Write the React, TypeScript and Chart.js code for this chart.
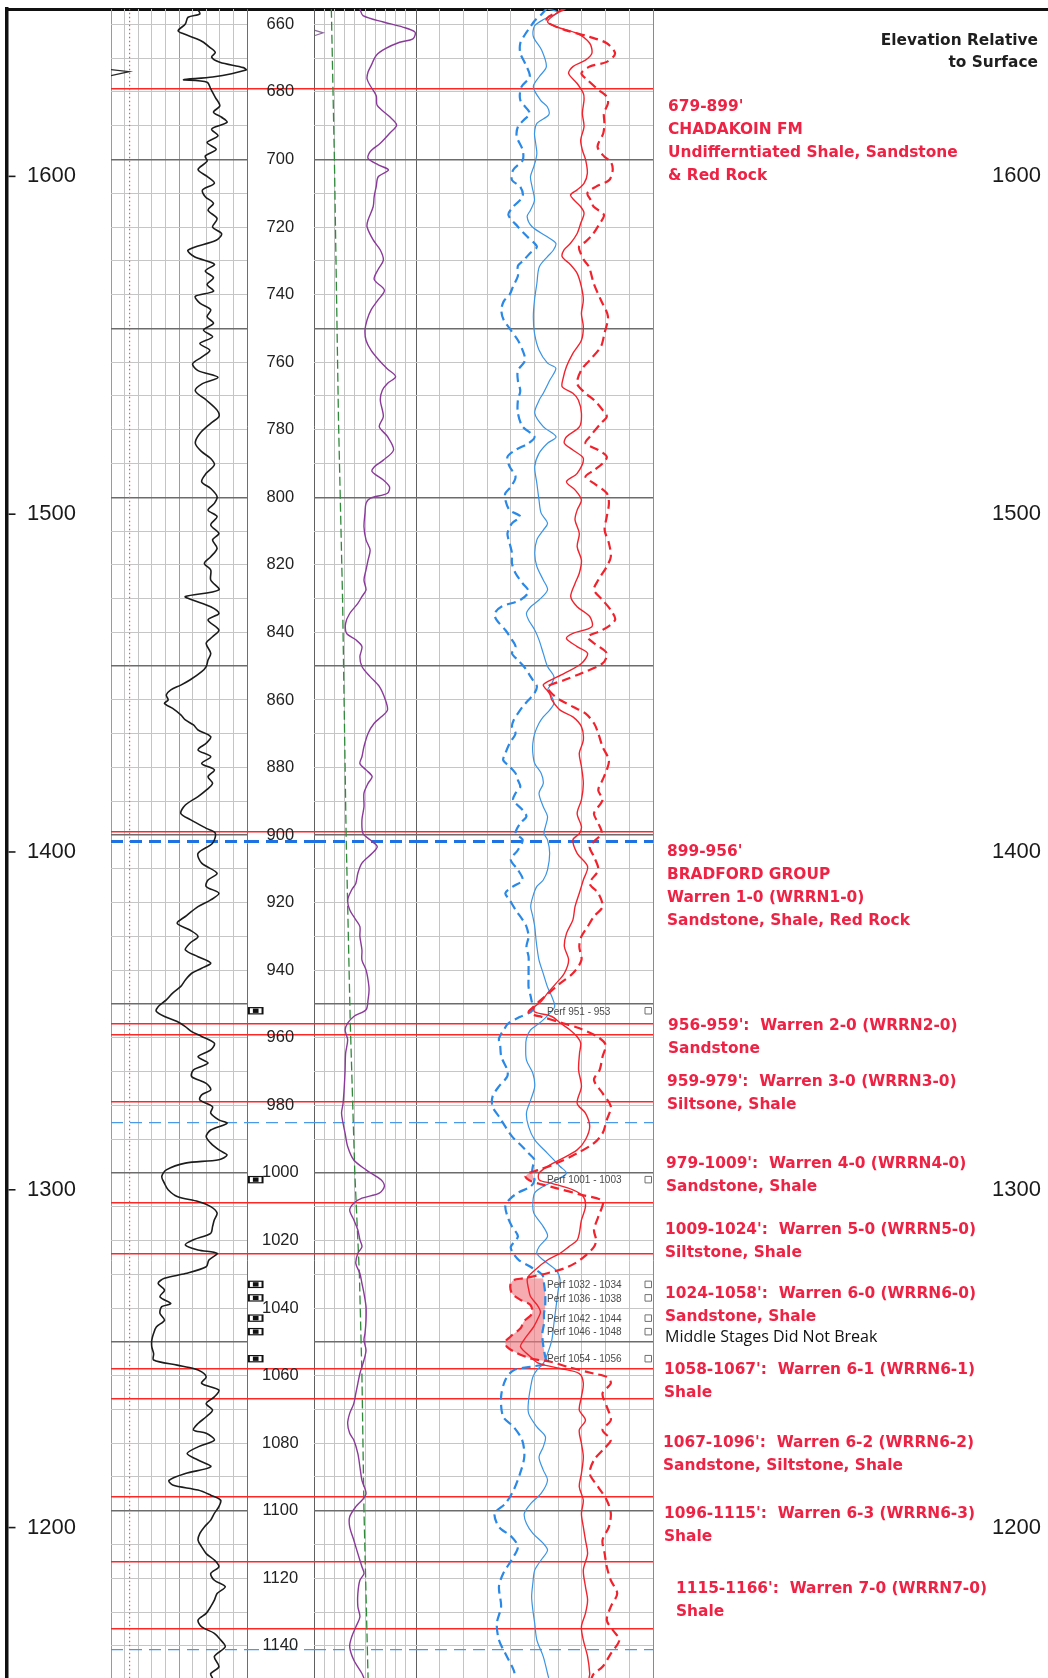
import React, { useEffect, useRef } from "react";
import { Chart, registerables } from "chart.js";

Chart.register(...registerables);

// ---------------- data ----------------
const TOP_DEPTH = 655.45;
const BASE_DEPTH = 1149.53;
const KB_ELEVATION = 2305;

const ELEVATION_TICKS = [1200, 1300, 1400, 1500, 1600];
const DEPTH_LABELS = [660, 680, 700, 720, 740, 760, 780, 800, 820, 840, 860, 880, 900, 920, 940, 960, 980, 1000, 1020, 1040, 1060, 1080, 1100, 1120, 1140];
const FORMATION_TOPS = [679, 899, 956, 959, 979, 1009, 1024, 1058, 1067, 1096, 1115, 1135];
const MARKER_DEPTHS = [902, 985, 1141];
const PERF_TOP = [951, 1001, 1032, 1036, 1042, 1046, 1054];
const PERF_BASE = [953, 1003, 1034, 1038, 1044, 1048, 1056];
const CROSSOVER_WINDOWS = [[950.6, 953.6], [999.5, 1003.3], [1029.8, 1056.4]];

const ZONE_DEPTH = [684.4, 904.9, 956.6, 973.0, 997.3, 1017.0, 1035.8, 1058.3, 1079.9, 1100.9, 1123.1];
const ZONE_TEXT = [
  ["679-899'", "CHADAKOIN FM", "Undifferntiated Shale, Sandstone", "& Red Rock"],
  ["899-956'", "BRADFORD GROUP", "Warren 1-0 (WRRN1-0)", "Sandstone, Shale, Red Rock"],
  ["956-959':  Warren 2-0 (WRRN2-0)", "Sandstone"],
  ["959-979':  Warren 3-0 (WRRN3-0)", "Siltsone, Shale"],
  ["979-1009':  Warren 4-0 (WRRN4-0)", "Sandstone, Shale"],
  ["1009-1024':  Warren 5-0 (WRRN5-0)", "Siltstone, Shale"],
  ["1024-1058':  Warren 6-0 (WRRN6-0)", "Sandstone, Shale"],
  ["1058-1067':  Warren 6-1 (WRRN6-1)", "Shale"],
  ["1067-1096':  Warren 6-2 (WRRN6-2)", "Sandstone, Siltstone, Shale"],
  ["1096-1115':  Warren 6-3 (WRRN6-3)", "Shale"],
  ["1115-1166':  Warren 7-0 (WRRN7-0)", "Shale"],
];
const NOTE_TEXT = "Middle Stages Did Not Break";
const NOTE_DEPTH = 1048.8;
const TITLE_LINES = ["Elevation Relative", "to Surface"];

// Gamma ray (API, track 1: 0-150)
const GR_LOG = [
  [655.4, 95], [656.9, 98], [657.9, 85], [659.9, 82], [661.9, 74], [662.8, 80], [664.3, 95], [665.3, 102], [666.8, 109], [668.3, 115],
  [669.7, 111], [671.2, 120], [672.8, 146], [673.5, 149], [675.6, 112], [676.4, 80], [677.1, 106], [679.1, 110], [681.6, 115], [684.1, 120],
  [686, 113], [687.5, 122], [689, 128], [691, 111], [693, 118], [695, 106], [697, 116], [699, 104], [700.5, 106], [703, 96],
  [705, 106], [707, 114], [709, 101], [711, 104], [713, 113], [715, 107], [717.5, 117], [720, 112], [722, 122], [723.9, 116],
  [726.8, 85], [728.8, 92], [731, 114], [733, 104], [735, 113], [737, 106], [739, 113], [740.5, 93], [742.5, 98], [744.5, 110],
  [746.5, 106], [748.5, 113], [750.5, 102], [752.5, 112], [754.5, 98], [756.5, 109], [758.5, 100], [760.5, 90], [762.5, 96], [764.5, 118],
  [766.5, 100], [768.5, 93], [771.2, 105], [774.2, 117], [776.1, 119], [778.1, 110], [781.1, 98], [784, 93], [786.5, 100], [788.5, 110],
  [790.4, 114], [792.9, 105], [795.4, 100], [797.4, 110], [799.8, 117], [801.8, 114], [803.8, 107], [805.7, 117], [808.2, 110], [810.7, 119],
  [812.6, 112], [815.1, 117], [817.6, 110], [819.6, 103], [821.5, 110], [824.5, 110], [827.4, 119], [829.4, 82], [830.4, 90], [832.4, 110],
  [834.4, 119], [836.3, 107], [839.3, 119], [841.3, 112], [843.2, 105], [846.2, 110], [848.2, 107], [850.1, 105], [851.6, 100], [854.1, 87],
  [855.6, 77], [857, 66], [858.5, 61], [860, 63], [861, 59], [862.5, 68], [864.4, 77], [865.9, 82], [867.4, 91], [868.9, 96],
  [870.9, 110], [872.8, 105], [874.8, 96], [876.8, 110], [878.8, 100], [880.7, 114], [882.7, 107], [884.7, 112], [886.7, 105], [888.6, 96],
  [891.1, 82], [893.6, 77], [895.5, 88], [898, 105], [899.4, 115], [902.4, 112], [905.4, 96], [908.3, 100], [911.3, 117], [913.3, 107],
  [915.2, 105], [917.2, 119], [919.2, 110], [921.2, 96], [924.1, 82], [926.1, 73], [928.1, 87], [930, 96], [932, 87], [934, 82],
  [936, 96], [937.9, 110], [939.4, 100], [940.9, 89], [942.9, 82], [944.8, 77], [946.8, 68], [948.8, 61], [950.8, 52], [952.2, 50],
  [953.7, 59], [955.2, 73], [956.7, 82], [958.2, 89], [959.6, 100], [961.6, 114], [963.6, 110], [965.6, 96], [967.5, 107], [969.5, 91],
  [971.5, 89], [973.5, 105], [975.4, 110], [976.9, 100], [978.4, 98], [980.4, 112], [982.3, 110], [984.3, 119], [985.3, 128], [987.3, 110],
  [989.2, 105], [991.2, 110], [993.2, 119], [994.7, 128], [996.1, 119], [997.1, 82], [999.1, 61], [1001.1, 56], [1003.1, 59], [1005, 63],
  [1007, 73], [1008.5, 96], [1010, 110], [1011.9, 117], [1013.9, 114], [1015.9, 112], [1017.9, 110], [1019.8, 91], [1021.3, 82], [1022.8, 96],
  [1023.8, 117], [1025.8, 108], [1027.8, 105], [1029.8, 82], [1031.2, 59], [1032.7, 52], [1034.7, 59], [1036.7, 54], [1038.7, 66], [1039.6, 56],
  [1041.6, 54], [1043.6, 59], [1045.6, 50], [1047.5, 47], [1049.5, 45], [1051.5, 45], [1053.5, 47], [1055.4, 47], [1056.9, 73], [1057.9, 91],
  [1058.9, 100], [1060.4, 105], [1062.3, 100], [1064.3, 119], [1066.3, 114], [1068.3, 105], [1070.2, 112], [1072.2, 105], [1074.2, 96], [1076.1, 91],
  [1077.1, 105], [1079.1, 114], [1081.1, 96], [1083.1, 84], [1085, 96], [1087, 110], [1089, 82], [1091, 64], [1092.4, 68], [1093.9, 96],
  [1095.4, 110], [1096.9, 121], [1098.8, 119], [1100.8, 114], [1102.8, 110], [1104.8, 103], [1106.7, 98], [1108.7, 96], [1110.7, 100], [1112.7, 105],
  [1114.6, 114], [1116.6, 119], [1118.6, 110], [1120.6, 114], [1122.5, 126], [1124.5, 117], [1126.5, 114], [1128.4, 110], [1130.4, 105], [1132.4, 96],
  [1134.4, 100], [1136.3, 114], [1138.3, 121], [1140.3, 126], [1143.2, 114], [1146.2, 119], [1148.2, 110], [1149.6, 112],
];
const SP_BLIP = [[673.4, 0], [674.0, 20], [675.2, 0]];
const DOTTED_LOG = [[655.4, 20.5], [1149.6, 20.5]];

// Track 2a (0-10 divisions)
const PURPLE_LOG = [
  [655.4, 4.5], [657.4, 4.8], [659.3, 6.8], [660.8, 8.7], [662.3, 9.9], [664.3, 9.7], [665.3, 8.4], [667.2, 7.0], [669.2, 6.1], [672.2, 5.6],
  [674.1, 5.3], [676.1, 5.2], [678.1, 5.5], [681.1, 6.1], [684, 6.2], [687.3, 7.4], [689.8, 8.1], [692.3, 7.4], [695.2, 6.5], [697.7, 5.5],
  [699.7, 5.3], [701.6, 6.3], [703.1, 7.3], [705.1, 6.3], [708, 6.1], [711, 5.9], [714, 5.8], [717.9, 5.3], [719.9, 5.2], [723.8, 5.8],
  [726.8, 6.5], [729.8, 6.8], [732.5, 6.3], [735.5, 5.9], [738.7, 6.9], [741.5, 6.3], [744.5, 5.6], [747.5, 5.2], [750.5, 5.0], [753.5, 5.1],
  [756.5, 5.6], [759.5, 6.4], [762, 7.2], [764.3, 8.0], [766.3, 7.2], [768.3, 6.7], [771.2, 6.5], [776.1, 6.8], [779.1, 6.4], [782, 7.2],
  [786, 7.8], [789, 6.8], [791, 5.9], [792.4, 5.7], [794.9, 6.8], [796.9, 7.4], [798.8, 7.2], [800.3, 5.5], [801.8, 5.1], [804.7, 5.0],
  [808.7, 4.9], [812.6, 5.1], [815.6, 5.5], [818.6, 5.3], [821.5, 5.1], [824.5, 4.9], [827.4, 5.1], [829.4, 4.7], [831.4, 4.3], [834.4, 3.5],
  [837.3, 3.1], [840.3, 3.2], [842.2, 4.1], [844.2, 4.7], [847.2, 4.5], [850.1, 4.7], [853.1, 5.5], [856, 6.4], [860, 7.0], [863, 7.2],
  [865, 6.6], [866.9, 5.9], [869.9, 5.3], [873.8, 4.9], [876.8, 4.7], [878.8, 4.5], [880.7, 5.1], [882.7, 5.7], [884.7, 5.3], [887.6, 4.9],
  [891.6, 4.9], [895.5, 4.7], [899.5, 4.8], [901.4, 5.5], [903.4, 6.2], [905.4, 5.7], [908.3, 4.7], [911.3, 4.3], [914.3, 4.1], [916.2, 3.7],
  [919.2, 3.3], [922.1, 3.5], [925.1, 4.1], [927.1, 4.5], [930, 4.5], [934, 4.7], [937, 4.7], [939.9, 5.1], [942.9, 5.3], [945.8, 5.4],
  [948.8, 5.3], [951.7, 5.1], [953.7, 3.9], [955.7, 3.3], [957.7, 3.05], [960.6, 3.3], [964.6, 3.1], [969.5, 3.05], [974.4, 2.97], [979.4, 2.85],
  [982.3, 2.7], [985.3, 2.85], [988.3, 3.05], [992.2, 3.3], [996.2, 3.9], [999.1, 5.1], [1002.1, 6.6], [1004, 6.9], [1006, 6.4], [1007.5, 4.7],
  [1009, 3.9], [1011, 3.5], [1013.9, 3.9], [1016.9, 4.3], [1019.8, 4.5], [1021.9, 4.7], [1023.8, 4.3], [1026.8, 4.1], [1029.8, 4.5], [1032.7, 4.7],
  [1035.7, 4.9], [1039.6, 5.1], [1043.6, 5.1], [1047.5, 5.0], [1049.5, 4.9], [1052.5, 5.1], [1055.4, 4.9], [1057.4, 4.7], [1059.4, 4.5], [1062.3, 4.3],
  [1065.3, 4.1], [1068.3, 3.9], [1071.2, 3.5], [1074.2, 3.3], [1077.1, 3.5], [1079.1, 3.9], [1083.1, 4.3], [1087, 4.5], [1091, 4.7], [1094.9, 5.1],
  [1096.9, 4.7], [1098.8, 4.1], [1101.8, 3.5], [1104.8, 3.5], [1108.7, 3.9], [1112.7, 4.3], [1116.6, 4.7], [1118.6, 4.9], [1120.6, 4.5], [1124.5, 4.3],
  [1128.4, 4.3], [1131.4, 4.5], [1134.4, 4.1], [1137.3, 3.7], [1140.3, 3.5], [1144.2, 3.9], [1148.2, 4.7], [1149.6, 4.9],
];
const PURPLE_BLIP = [[661.8, 0.1], [662.5, 0.9], [663.3, 0.1]];
const GREEN_LOG = [[655.4, 1.7], [700, 2.0], [777, 2.4], [830, 2.8], [900, 3.15], [955, 3.55], [1000, 4.0], [1030, 4.45], [1060, 4.7], [1100, 4.9], [1149.6, 5.3]];

// Track 2b (0-10 divisions)
const BLUE_DASHED_LOG = [
  [655.4, 5.5], [657, 5.3], [659, 5.0], [661, 4.8], [663, 4.6], [665.6, 4.4], [668.5, 4.4], [671.5, 4.6], [675.5, 4.8], [678.5, 4.45],
  [682.4, 4.4], [686.3, 4.8], [688.3, 4.55], [690.3, 4.3], [693.2, 4.25], [697.2, 4.5], [700.2, 4.5], [703.1, 4.1], [706.1, 4.05], [708.1, 4.4],
  [711, 4.5], [714, 4.1], [716.4, 3.9], [719.9, 4.3], [722.9, 4.7], [725.8, 5.1], [727.8, 4.8], [729.8, 4.55], [731.5, 4.3], [734.5, 4.3],
  [737.5, 4.1], [740, 3.95], [742, 3.7], [744.6, 3.6], [747.5, 3.7], [750.5, 4.0], [753.5, 4.3], [756.5, 4.5], [759.5, 4.6], [762.5, 4.3],
  [765.5, 4.3], [768.5, 4.4], [771.2, 4.3], [775.1, 4.3], [779.1, 4.5], [782.1, 5.0], [784, 4.75], [786, 4.2], [788, 3.86], [790.9, 3.95],
  [793.9, 4.2], [796.9, 4.0], [798.8, 3.77], [800.8, 3.77], [803.8, 3.95], [805.7, 4.4], [807.7, 4.05], [810.7, 3.86], [813.6, 3.95], [816.6, 4.05],
  [819.6, 4.05], [822.5, 4.2], [825.5, 4.5], [827.9, 4.75], [830.4, 4.4], [832.4, 3.6], [834.4, 3.32], [836.3, 3.4], [839.3, 3.77], [842.2, 4.05],
  [844.2, 4.2], [846.2, 4.05], [848.2, 4.3], [850.1, 4.55], [852.1, 4.75], [854.1, 4.93], [856, 5.1], [858, 5.0], [860, 4.75], [862, 4.5],
  [864, 4.3], [866, 4.12], [867.9, 4.05], [869.9, 4.2], [872.8, 3.95], [875.8, 3.77], [877.8, 3.68], [879.7, 3.95], [881.7, 4.2], [883.7, 4.3],
  [885.7, 4.4], [887.6, 4.2], [889.6, 4.1], [892.6, 4.5], [894.5, 4.66], [896.5, 4.4], [899.5, 4.2], [901.4, 4.5], [904.4, 4.3], [907.3, 4.0],
  [910.3, 4.3], [913.3, 4.5], [915.2, 4.1], [917.2, 3.77], [919.2, 3.95], [922.1, 4.2], [925.1, 4.5], [927.1, 4.66], [930, 4.75], [933, 4.66],
  [936, 4.75], [939, 4.75], [942, 4.75], [945, 4.75], [947.8, 4.84], [949.8, 4.9], [951, 4.95], [952.3, 4.85], [953.8, 4.4], [955.7, 3.9],
  [957.7, 3.7], [960.2, 3.5], [962.1, 3.55], [965.6, 3.6], [969.5, 3.85], [971.5, 3.85], [974.4, 3.5], [977.4, 3.23], [980.4, 3.23], [983.3, 3.5],
  [986.3, 3.77], [989.2, 4.05], [992.2, 4.48], [994.2, 4.75], [996.1, 5.0], [998.1, 4.93], [1000.1, 4.9], [1002.1, 5.0], [1004, 4.84], [1005.9, 4.3],
  [1007.8, 3.95], [1009.8, 3.77], [1012.9, 3.86], [1015.9, 4.05], [1018.8, 4.3], [1021.9, 4.0], [1023.8, 4.1], [1025.8, 4.34], [1027.8, 4.83], [1030.2, 5.33],
  [1032.7, 5.4], [1035.7, 5.45], [1039.6, 5.45], [1041.6, 5.4], [1044.6, 5.4], [1047.5, 5.33], [1050, 5.35], [1052.4, 5.4], [1054.4, 5.45], [1056.4, 5.5],
  [1057.4, 4.83], [1058.4, 4.12], [1061.3, 3.77], [1066.3, 3.59], [1072.2, 3.68], [1075.2, 4.12], [1079.1, 4.48], [1084, 4.57], [1089, 4.39], [1093.9, 4.12],
  [1097.9, 3.77], [1100.8, 3.32], [1104.8, 3.5], [1107.7, 4.03], [1110.7, 4.3], [1114.6, 4.03], [1118.6, 3.68], [1122.5, 3.5], [1128.4, 3.59], [1133.4, 3.41],
  [1138.3, 3.5], [1142.3, 3.77], [1147.2, 4.12], [1149.6, 4.2],
];
const BLUE_SOLID_LOG = [
  [655.4, 5.55], [656.5, 6.0], [658.5, 5.4], [660.5, 5.0], [663.6, 4.95], [667.6, 5.3], [672.5, 5.5], [675.5, 5.2], [678.5, 4.95], [682.4, 5.25],
  [684.4, 5.54], [686.8, 5.6], [689.3, 5.1], [692.3, 5.0], [695.2, 5.05], [698.2, 5.1], [700.2, 5.05], [702.1, 4.97], [705.1, 4.83], [708.1, 4.9],
  [712, 5.0], [715, 4.83], [716.9, 4.69], [719.9, 4.9], [722.9, 5.54], [724.8, 5.9], [726.8, 5.8], [728.8, 5.54], [731.8, 5.2], [736.7, 5.1],
  [741.6, 5.0], [746.6, 4.95], [751.5, 5.0], [756.4, 5.19], [760.3, 5.55], [761.8, 5.9], [765.3, 5.65], [769.2, 5.37], [771.2, 5.2], [775.1, 5.01],
  [779.1, 5.37], [782.1, 5.91], [784, 5.55], [787, 5.19], [790.9, 5.01], [795.9, 5.1], [800.8, 5.19], [804.7, 5.28], [807.7, 5.55], [809.7, 5.37],
  [812.6, 5.1], [816.6, 5.01], [820.5, 5.1], [824.5, 5.37], [827.4, 5.55], [830.4, 5.19], [832.4, 4.84], [834.4, 4.66], [836.3, 4.75], [839.3, 5.01],
  [842.2, 5.19], [846.2, 5.37], [850.1, 5.55], [853.1, 5.82], [855.1, 5.73], [857.1, 5.55], [859, 5.73], [861, 5.82], [863, 5.64], [865, 5.37],
  [866.9, 5.19], [869.9, 5.01], [872.8, 4.93], [875.8, 4.93], [878.8, 5.01], [881.7, 5.28], [884.7, 5.37], [887.6, 5.19], [891.6, 5.37], [894.5, 5.55],
  [897.5, 5.46], [899.5, 5.4], [901.4, 5.55], [905.4, 5.64], [910.3, 5.55], [913.3, 5.37], [915.2, 5.1], [918.2, 4.93], [921.2, 4.84], [924.1, 4.93],
  [927.1, 5.01], [930, 5.05], [933, 5.1], [937, 5.19], [941, 5.37], [945, 5.55], [947.8, 5.73], [950.8, 5.85], [953.8, 5.5], [955.7, 5.2],
  [957.7, 4.83], [960.2, 4.66], [962.6, 4.63], [966.6, 4.66], [970.5, 4.93], [974.4, 5.01], [978.4, 4.84], [982.3, 4.66], [986.3, 4.75], [990.2, 5.01],
  [994.2, 5.55], [998.1, 6.08], [1000.1, 6.35], [1002.1, 5.91], [1004, 5.37], [1005.9, 5.01], [1008.9, 4.93], [1011.9, 4.97], [1015.9, 5.37], [1018.8, 5.55],
  [1021.8, 5.2], [1023.8, 5.1], [1025.8, 5.37], [1028.8, 5.91], [1031.7, 6.08], [1034.7, 6.0], [1039.6, 5.91], [1044.6, 5.82], [1049.5, 5.73], [1053.5, 5.55],
  [1056.4, 5.37], [1058.4, 5.1], [1060.4, 4.93], [1063.3, 4.84], [1067.3, 4.75], [1071.2, 4.75], [1075.2, 5.1], [1078.1, 5.46], [1081.1, 5.37], [1084.1, 5.19],
  [1088, 5.37], [1091, 5.55], [1094.9, 5.28], [1097.9, 4.84], [1100.8, 4.57], [1103.8, 4.66], [1106.7, 4.93], [1109.7, 5.37], [1111.7, 5.55], [1114.6, 5.28],
  [1117.6, 5.01], [1121.5, 4.93], [1125.5, 4.88], [1129.4, 4.93], [1133.4, 5.01], [1138.3, 5.1], [1143.2, 5.37], [1148.2, 5.55], [1149.6, 5.6],
];
const RED_SOLID_LOG = [
  [655.4, 6.2], [656.3, 6.0], [659.2, 5.55], [660.7, 5.91], [662.7, 6.8], [665.6, 7.33], [668.6, 7.42], [670.6, 7.15], [672.5, 6.62], [674.5, 6.44],
  [677.5, 6.8], [680.4, 7.06], [682.4, 7.09], [686.3, 7.02], [690.3, 7.09], [694.2, 6.95], [697.2, 7.02], [700.2, 7.16], [704.1, 7.23], [707.1, 7.09],
  [709, 6.8], [710.5, 6.52], [712, 6.67], [714, 6.95], [715.9, 7.09], [718.9, 6.95], [721.9, 6.8], [724.8, 6.52], [726.8, 6.24], [728.8, 6.17],
  [731, 6.5], [733.7, 6.8], [737.7, 6.98], [741.6, 7.06], [745.6, 6.98], [749.5, 7.06], [753.5, 6.98], [757.4, 6.62], [761.3, 6.35], [765, 6.2],
  [767.3, 6.17], [769.2, 6.62], [771.2, 6.85], [775.1, 6.98], [779.1, 6.9], [782.1, 6.35], [784, 6.26], [786, 6.62], [788.5, 7.06], [792.9, 6.8],
  [795.4, 6.35], [797.8, 6.71], [800.8, 6.98], [803.8, 6.8], [806.7, 6.71], [810.7, 6.89], [814.6, 6.8], [818.6, 6.98], [822.5, 6.89], [825.5, 6.71],
  [829.4, 6.53], [832.4, 6.8], [835.3, 7.33], [838.3, 7.42], [840.3, 6.62], [841.8, 6.35], [844.2, 6.8], [846.2, 7.24], [849.2, 6.98], [852.1, 6.26],
  [854.6, 5.55], [855.6, 5.37], [858.1, 5.64], [860, 5.73], [863, 6.08], [865, 6.62], [867.9, 6.98], [871.9, 7.06], [875.8, 6.89], [879.7, 6.98],
  [884.7, 7.06], [889.6, 6.98], [893.6, 6.8], [897.5, 6.98], [899.5, 6.9], [901.4, 6.62], [905.4, 6.8], [909.3, 7.24], [913.3, 7.06], [917.2, 6.89],
  [921.2, 6.71], [925.1, 6.62], [929.1, 6.35], [933, 6.26], [937, 6.44], [940.9, 6.26], [943.9, 5.91], [946.8, 5.55], [949.3, 5.28], [950.8, 5.01],
  [952.3, 5.0], [953.7, 5.73], [955.7, 6.1], [957.7, 6.5], [959.7, 6.8], [961.6, 6.95], [964.6, 6.9], [969.5, 6.86], [974.4, 6.98], [979.4, 6.8],
  [982.3, 7.15], [986.3, 7.33], [990.2, 7.15], [993.2, 6.8], [996.1, 6.08], [998.1, 5.55], [1000.1, 5.19], [1002.1, 5.2], [1003.1, 5.73], [1005, 6.62],
  [1007, 7.06], [1010, 7.15], [1014, 6.98], [1017.9, 6.89], [1019.9, 6.8], [1021.9, 6.44], [1023.8, 6.08], [1025.8, 5.55], [1028.8, 5.01], [1031.2, 4.7],
  [1034.7, 4.76], [1036.6, 4.83], [1039.1, 5.11], [1041.1, 5.25], [1042.6, 5.18], [1045.5, 4.97], [1047.5, 4.76], [1049.5, 4.55], [1051.5, 4.41], [1054.4, 4.83],
  [1056.4, 5.19], [1057.9, 6.08], [1059.4, 6.89], [1062.3, 7.06], [1066.3, 6.98], [1070.2, 6.89], [1073.2, 7.15], [1076.1, 6.89], [1080.1, 6.98], [1084.1, 7.06],
  [1089, 6.98], [1092.9, 6.89], [1096.9, 7.06], [1100.8, 6.98], [1104.8, 7.06], [1108.7, 7.15], [1112.7, 7.24], [1117.6, 7.06], [1122.5, 7.15], [1126.5, 7.24],
  [1130.4, 7.15], [1134.4, 6.98], [1138.3, 7.06], [1143.2, 7.24], [1148.2, 7.33], [1149.6, 7.3],
];
const RED_DASHED_LOG = [
  [655.4, 6.3], [657.7, 5.6], [659.2, 5.5], [661.7, 6.3], [663.7, 7.33], [665.6, 8.05], [668.6, 8.4], [671.1, 8.05], [672.5, 7.33], [674.5, 6.98],
  [676.5, 7.24], [679.4, 7.7], [681.4, 8.05], [683.4, 8.1], [686.3, 7.93], [689.3, 7.95], [692.3, 7.9], [696.2, 7.66], [699.2, 7.95], [700.7, 8.22],
  [703.1, 8.3], [706.1, 8.15], [708.1, 7.58], [710, 7.23], [712, 7.37], [714, 7.5], [716.4, 7.93], [719.3, 7.72], [722.3, 7.44], [724.3, 7.16],
  [725.8, 6.88], [727.8, 6.95], [729.8, 7.09], [731.8, 7.3], [736.7, 7.5], [741.6, 7.8], [746.5, 8.1], [751.5, 7.95], [755.4, 7.8], [759.4, 7.33],
  [762.3, 6.98], [766.3, 6.8], [769.2, 7.15], [771.2, 7.51], [774.1, 7.87], [776.1, 8.05], [778.1, 7.8], [782.1, 7.33], [784, 7.15], [786, 7.69],
  [788, 8.05], [790, 7.87], [792, 7.51], [793.9, 7.15], [795.9, 7.51], [798.8, 8.05], [801.8, 8.14], [805.7, 8.05], [809.7, 7.96], [813.6, 8.14],
  [817.6, 8.22], [820.5, 8.05], [824.5, 7.69], [827.4, 7.51], [830.4, 7.87], [833.4, 8.22], [836.3, 8.4], [839.3, 7.87], [841.3, 7.24], [843.2, 7.51],
  [846.2, 8.05], [849.2, 7.87], [852.1, 6.98], [854.1, 6.26], [856.1, 5.55], [858.1, 5.73], [860, 6.08], [862, 6.62], [864, 7.15], [866.9, 7.51],
  [869.9, 7.69], [873.8, 7.87], [877.8, 8.14], [880.7, 8.05], [883.7, 7.87], [886.7, 7.69], [889.6, 7.87], [893.6, 7.51], [896.5, 7.69], [899.5, 7.83],
  [903.4, 7.33], [906.4, 7.51], [910.3, 7.69], [914.3, 7.33], [917.2, 7.69], [921.2, 7.87], [924.1, 7.51], [927.1, 7.24], [930, 6.98], [933, 6.89],
  [937, 6.98], [940.9, 6.62], [943.9, 6.08], [946.8, 5.6], [949.3, 5.19], [951.2, 4.9], [952.3, 4.75], [953.3, 5.0], [953.8, 5.3], [955.7, 6.2],
  [957.2, 6.9], [959.7, 7.66], [962.1, 8.0], [965.6, 7.87], [969.5, 7.75], [972.5, 7.51], [976.4, 7.87], [980.4, 8.22], [984.3, 8.05], [988.3, 7.87],
  [991.2, 7.51], [994.2, 6.8], [997.2, 5.91], [999.1, 5.19], [1000.1, 4.75], [1001.1, 4.62], [1002.4, 4.84], [1003.4, 5.3], [1004.5, 5.91], [1006.5, 6.98],
  [1008.4, 7.87], [1013, 7.69], [1016.9, 7.51], [1019.9, 7.6], [1021.9, 7.51], [1024.8, 7.1], [1026.8, 6.7], [1028.3, 6.24], [1029.7, 5.54], [1031.2, 4.55],
  [1031.7, 4.12], [1033.2, 3.98], [1035.7, 4.05], [1037.6, 4.41], [1039.1, 4.83], [1041.6, 4.9], [1044, 4.55], [1046, 4.41], [1048.5, 3.98], [1050, 3.77],
  [1051.5, 3.84], [1053.4, 4.27], [1054.9, 4.83], [1055.4, 5.18], [1055.9, 5.68], [1057.4, 6.38], [1059.4, 7.5], [1060.4, 8.05], [1062.3, 8.22], [1065.3, 7.87],
  [1069.2, 8.05], [1073.2, 8.22], [1076.1, 7.87], [1079.1, 8.22], [1082.1, 7.87], [1085, 7.51], [1089, 7.33], [1093, 7.69], [1096.9, 8.05], [1100.8, 8.22],
  [1104.8, 8.14], [1108.7, 7.87], [1112.7, 7.96], [1116.6, 8.05], [1120.6, 8.22], [1124.5, 8.49], [1128.4, 8.22], [1132.4, 8.05], [1135.4, 8.31], [1138.3, 8.58],
  [1142.3, 8.22], [1146.2, 7.87], [1148.2, 7.51], [1149.6, 7.4],
];

// ---------------- styles ----------------
const RED = "rgb(238, 34, 68)";
const LINE_RED = "rgb(255, 38, 38)";
const ZONE_X = [668, 667, 668, 667, 666, 665, 665, 664, 663, 664, 676];
const ZONE_LINE_STEP = 23;
const ZONE_FONT = 'bold 15.4px "DejaVu Sans"';
const PERF_LABEL_VALUE = 5.53;
const PERF_ICON_VALUE = 9.8;
const PERF_MARK_VALUE = 0.13;
const GR_GRID = [0, 15, 30, 45, 60, 75, 90, 105, 120, 135, 150];
const TRACK_GRID = [0, 1, 2, 3, 4, 5, 6, 7, 8, 9, 10];
const GRID_DEPTHS: number[] = [];
for (let d = 660; d <= 1140; d += 10) GRID_DEPTHS.push(d);

const baseOptions = (pad: any) => ({
  responsive: false,
  animation: false as const,
  events: [] as any[],
  layout: { autoPadding: false, padding: pad },
  plugins: { legend: { display: false }, tooltip: { enabled: false } },
});

// labels must not reserve any room in the layout
const noRoom = (s: any) => {
  s.width = 0;
  s.paddingTop = 0;
  s.paddingBottom = 0;
  s.paddingLeft = 0;
  s.paddingRight = 0;
};

const depthScale = (values: number[], color: (v: number) => string, width: (v: number) => number, dash: number[] = []) => ({
  type: "linear",
  axis: "y",
  position: "left",
  min: TOP_DEPTH,
  max: BASE_DEPTH,
  reverse: true,
  ticks: { display: false },
  border: { display: false, dash },
  grid: {
    drawTicks: false,
    color: (c: any) => color(c.tick ? c.tick.value : 0),
    lineWidth: (c: any) => width(c.tick ? c.tick.value : 0),
  },
  afterBuildTicks: (s: any) => {
    s.ticks = values.map((v) => ({ value: v }));
  },
  afterFit: noRoom,
});

const gridScale = () =>
  depthScale(
    GRID_DEPTHS,
    (v) => (v % 50 === 0 ? "#6c6c6c" : "#c6c6c6"),
    (v) => (v % 50 === 0 ? 1.4 : 1)
  );
const topsScale = () => depthScale(FORMATION_TOPS, () => LINE_RED, () => 1.6);
const marksScale = () =>
  depthScale(
    MARKER_DEPTHS,
    (v) => (v === MARKER_DEPTHS[0] ? "#1f72e2" : "#4b9ae8"),
    (v) => (v === MARKER_DEPTHS[0] ? 3 : 1.3),
    [12, 7]
  );

const valueScale = (min: number, max: number, values: number[], color: (v: number) => string) => ({
  type: "linear",
  position: "bottom",
  min,
  max,
  ticks: { display: false },
  border: { display: false },
  grid: { drawTicks: false, color: (c: any) => color(c.tick ? c.tick.value : min), lineWidth: 1 },
  afterBuildTicks: (s: any) => {
    s.ticks = values.map((v) => ({ value: v }));
  },
});

const curve = (pairs: number[][], color: string, width: number, dash: number[] = [], tension = 0.3) => ({
  type: "line",
  data: pairs.map(([d, v]) => ({ x: v, y: d })),
  borderColor: color,
  borderWidth: width,
  borderDash: dash,
  pointRadius: 0,
  tension,
  fill: false,
});

const windowOf = (pairs: number[][], lo: number, hi: number) => pairs.filter(([d]) => d >= lo && d <= hi);

// ---------------- plugins ----------------
const framePlugin = {
  id: "frameText",
  afterDraw(chart: any) {
    const ctx = chart.ctx;
    const s = chart.scales.elev;
    const area = chart.chartArea;
    const yOfDepth = (d: number) => s.getPixelForValue(KB_ELEVATION - d);
    ctx.save();
    ctx.strokeStyle = "#1a1a1a";
    ctx.lineWidth = 1.6;
    ELEVATION_TICKS.forEach((v) => {
      const y = s.getPixelForValue(v);
      ctx.beginPath();
      ctx.moveTo(area.left + 2, y);
      ctx.lineTo(area.left + 9, y);
      ctx.stroke();
    });
    ctx.font = '22px "Liberation Sans"';
    ctx.fillStyle = "#1a1a1a";
    ctx.textAlign = "right";
    ctx.textBaseline = "middle";
    ELEVATION_TICKS.forEach((v) => ctx.fillText(String(v), area.right - 7, s.getPixelForValue(v)));
    ctx.font = ZONE_FONT;
    ctx.fillStyle = "#1e1e1e";
    TITLE_LINES.forEach((t, i) => ctx.fillText(t, area.right - 10, area.top + 31.7 + i * 22.6));
    ctx.textAlign = "left";
    ctx.fillStyle = RED;
    ZONE_TEXT.forEach((lines, i) => {
      const y0 = yOfDepth(ZONE_DEPTH[i]);
      lines.forEach((t, j) => ctx.fillText(t, ZONE_X[i], y0 + j * ZONE_LINE_STEP));
    });
    ctx.font = '16px "Open Sans"';
    ctx.fillStyle = "#111";
    ctx.fillText(NOTE_TEXT, 665, yOfDepth(NOTE_DEPTH));
    ctx.restore();
  },
};

const perfLabelPlugin = {
  id: "perfLabels",
  afterDatasetsDraw(chart: any) {
    const ctx = chart.ctx;
    const xs = chart.scales.x;
    const ys = chart.scales.y;
    ctx.save();
    ctx.font = '10px "Liberation Sans"';
    ctx.fillStyle = "#4a4a4a";
    ctx.textAlign = "left";
    ctx.textBaseline = "middle";
    PERF_TOP.forEach((t, i) => {
      const y = ys.getPixelForValue((t + PERF_BASE[i]) / 2 + 0.3);
      ctx.fillText(`Perf ${t} - ${PERF_BASE[i]}`, xs.getPixelForValue(PERF_LABEL_VALUE), y);
    });
    ctx.restore();
  },
};

export default function App() {
  const r0 = useRef<HTMLCanvasElement>(null);
  const r1 = useRef<HTMLCanvasElement>(null);
  const r2 = useRef<HTMLCanvasElement>(null);
  const r3 = useRef<HTMLCanvasElement>(null);
  const r4 = useRef<HTMLCanvasElement>(null);

  useEffect(() => {
    const charts: Chart[] = [];

    // Frame, elevation axis and zone annotations
    charts.push(
      new Chart(r0.current as HTMLCanvasElement, {
        type: "line",
        data: { datasets: [] },
        options: {
          ...baseOptions({ left: 6.5, top: 9, right: 0, bottom: 0 }),
          scales: {
            x: {
              type: "linear",
              position: "top",
              min: 0,
              max: 1,
              ticks: { display: false },
              grid: { display: false, drawTicks: false },
              border: { display: true, color: "#111", width: 3 },
              afterFit: (s: any) => {
                s.height = 0;
                s.paddingLeft = 0;
                s.paddingRight = 0;
              },
            },
            elev: {
              type: "linear",
              axis: "y",
              position: "left",
              min: KB_ELEVATION - BASE_DEPTH,
              max: KB_ELEVATION - TOP_DEPTH,
              ticks: {
                mirror: true,
                padding: 20.5,
                font: { family: "Liberation Sans", size: 22 },
                color: "#1a1a1a",
                callback: (v: any) => String(v),
              },
              grid: { display: false, drawTicks: false },
              border: { display: true, color: "#111", width: 3.5 },
              afterBuildTicks: (s: any) => {
                s.ticks = ELEVATION_TICKS.map((v) => ({ value: v }));
              },
              afterFit: noRoom,
            },
          } as any,
        } as any,
        plugins: [framePlugin],
      } as any)
    );

    // Track 1: gamma ray
    charts.push(
      new Chart(r1.current as HTMLCanvasElement, {
        type: "line",
        data: {
          datasets: [
            curve(GR_LOG, "#1c1c1c", 1.6),
            curve(SP_BLIP, "#2a2a2a", 1.3, [], 0),
            curve(DOTTED_LOG, "#ff4a6a", 1.2, [1.5, 2.5], 0),
          ],
        } as any,
        options: {
          ...baseOptions({ left: 2, right: 2, top: 9, bottom: 0 }),
          indexAxis: "y",
          scales: {
            x: valueScale(0, 150, GR_GRID, (v) => (v === 150 ? "#6e6e6e" : v === 0 ? "#9a9a9a" : v === 75 ? "#9c9c9c" : "#c4c4c4")),
            y: gridScale(),
            tops: topsScale(),
            marks: marksScale(),
          } as any,
        } as any,
      } as any)
    );

    // Depth track
    const perfBars = (inset: number, thickness: number, color: string) => ({
      type: "bar",
      data: PERF_TOP.map((t, i) => ({ x: PERF_MARK_VALUE, y: [t + inset, PERF_BASE[i] - inset] })),
      backgroundColor: color,
      borderWidth: 0,
      barThickness: thickness,
      grouped: false,
    });
    charts.push(
      new Chart(r2.current as HTMLCanvasElement, {
        type: "bar",
        data: {
          datasets: [perfBars(0.45, 5, "#111"), perfBars(0.35, 11, "#fff"), perfBars(0, 15, "#111")],
        } as any,
        options: {
          ...baseOptions({ left: 0, right: 0, top: 9, bottom: 0 }),
          scales: {
            x: { type: "linear", min: 0, max: 1, display: false, offset: false },
            y: {
              type: "linear",
              position: "left",
              min: TOP_DEPTH,
              max: BASE_DEPTH,
              reverse: true,
              ticks: {
                mirror: true,
                crossAlign: "center",
                padding: 15,
                font: { family: "Liberation Sans", size: 16.5 },
                color: "#222",
                callback: (v: any) => String(v),
              },
              grid: { display: false, drawTicks: false },
              border: { display: false },
              afterBuildTicks: (s: any) => {
                s.ticks = DEPTH_LABELS.map((v) => ({ value: v }));
              },
              afterFit: noRoom,
            },
            tops: topsScale(),
            marks: marksScale(),
          } as any,
        } as any,
      } as any)
    );

    // Track 2a
    charts.push(
      new Chart(r3.current as HTMLCanvasElement, {
        type: "line",
        data: {
          datasets: [
            curve(PURPLE_LOG, "#8a3a9a", 1.4),
            curve(PURPLE_BLIP, "#8a6a9a", 1.2, [], 0),
            curve(GREEN_LOG, "#2f8a3a", 1.3, [9, 4], 0),
          ],
        } as any,
        options: {
          ...baseOptions({ left: 2, right: 2, top: 9, bottom: 0 }),
          indexAxis: "y",
          scales: {
            x: valueScale(0, 10, TRACK_GRID, (v) => (v === 0 || v === 10 ? "#606060" : "#c4c4c4")),
            y: gridScale(),
            tops: topsScale(),
            marks: marksScale(),
          } as any,
        } as any,
      } as any)
    );

    // Track 2b
    const fills: any[] = [];
    CROSSOVER_WINDOWS.forEach(([lo, hi]) => {
      fills.push({
        type: "line",
        data: windowOf(RED_DASHED_LOG, lo, hi).map(([d, v]) => ({ x: v, y: d })),
        borderColor: "rgba(0,0,0,0)",
        backgroundColor: "rgba(240, 120, 128, 0.62)",
        pointRadius: 0,
        tension: 0.3,
        fill: "+1",
      });
      fills.push({
        type: "line",
        data: windowOf(BLUE_DASHED_LOG, lo, hi).map(([d, v]) => ({ x: v, y: d })),
        borderColor: "rgba(0,0,0,0)",
        pointRadius: 0,
        tension: 0.3,
        fill: false,
      });
    });
    charts.push(
      new Chart(r4.current as HTMLCanvasElement, {
        type: "line",
        data: {
          datasets: [
            {
              type: "line",
              data: PERF_TOP.map((t, i) => ({ x: PERF_ICON_VALUE, y: (t + PERF_BASE[i]) / 2 })),
              showLine: false,
              pointStyle: "rect",
              pointRadius: 4.6,
              pointBackgroundColor: "#fff",
              pointBorderColor: "#707070",
              pointBorderWidth: 1,
            },
            curve(RED_DASHED_LOG, "#f2222c", 2.2, [9, 5]),
            curve(RED_SOLID_LOG, "#f2222c", 1.4),
            curve(BLUE_DASHED_LOG, "#2a88e6", 2.2, [9, 5]),
            curve(BLUE_SOLID_LOG, "#3a94e4", 1.2),
            ...fills,
          ],
        } as any,
        options: {
          ...baseOptions({ left: 2, right: 2, top: 9, bottom: 0 }),
          indexAxis: "y",
          scales: {
            x: valueScale(0, 10, TRACK_GRID, (v) => (v === 0 ? "#606060" : v === 10 ? "#8a8a8a" : "#c4c4c4")),
            y: gridScale(),
            tops: topsScale(),
            marks: marksScale(),
          } as any,
        } as any,
        plugins: [perfLabelPlugin],
      } as any)
    );

    return () => charts.forEach((c) => c.destroy());
  }, []);

  const abs = (left: number, width: number): React.CSSProperties => ({
    position: "absolute",
    left,
    top: 0,
    width,
    height: 1678,
  });

  return (
    <div style={{ position: "absolute", left: 0, top: 0, width: 1048, height: 1678, background: "#fff", overflow: "hidden" }}>
      <canvas ref={r0} width={1048} height={1678} style={abs(0, 1048)} />
      <canvas ref={r1} width={140} height={1678} style={abs(109, 140)} />
      <canvas ref={r2} width={67} height={1678} style={abs(247, 67)} />
      <canvas ref={r3} width={106} height={1678} style={abs(312, 106)} />
      <canvas ref={r4} width={241} height={1678} style={abs(414, 241)} />
    </div>
  );
}
